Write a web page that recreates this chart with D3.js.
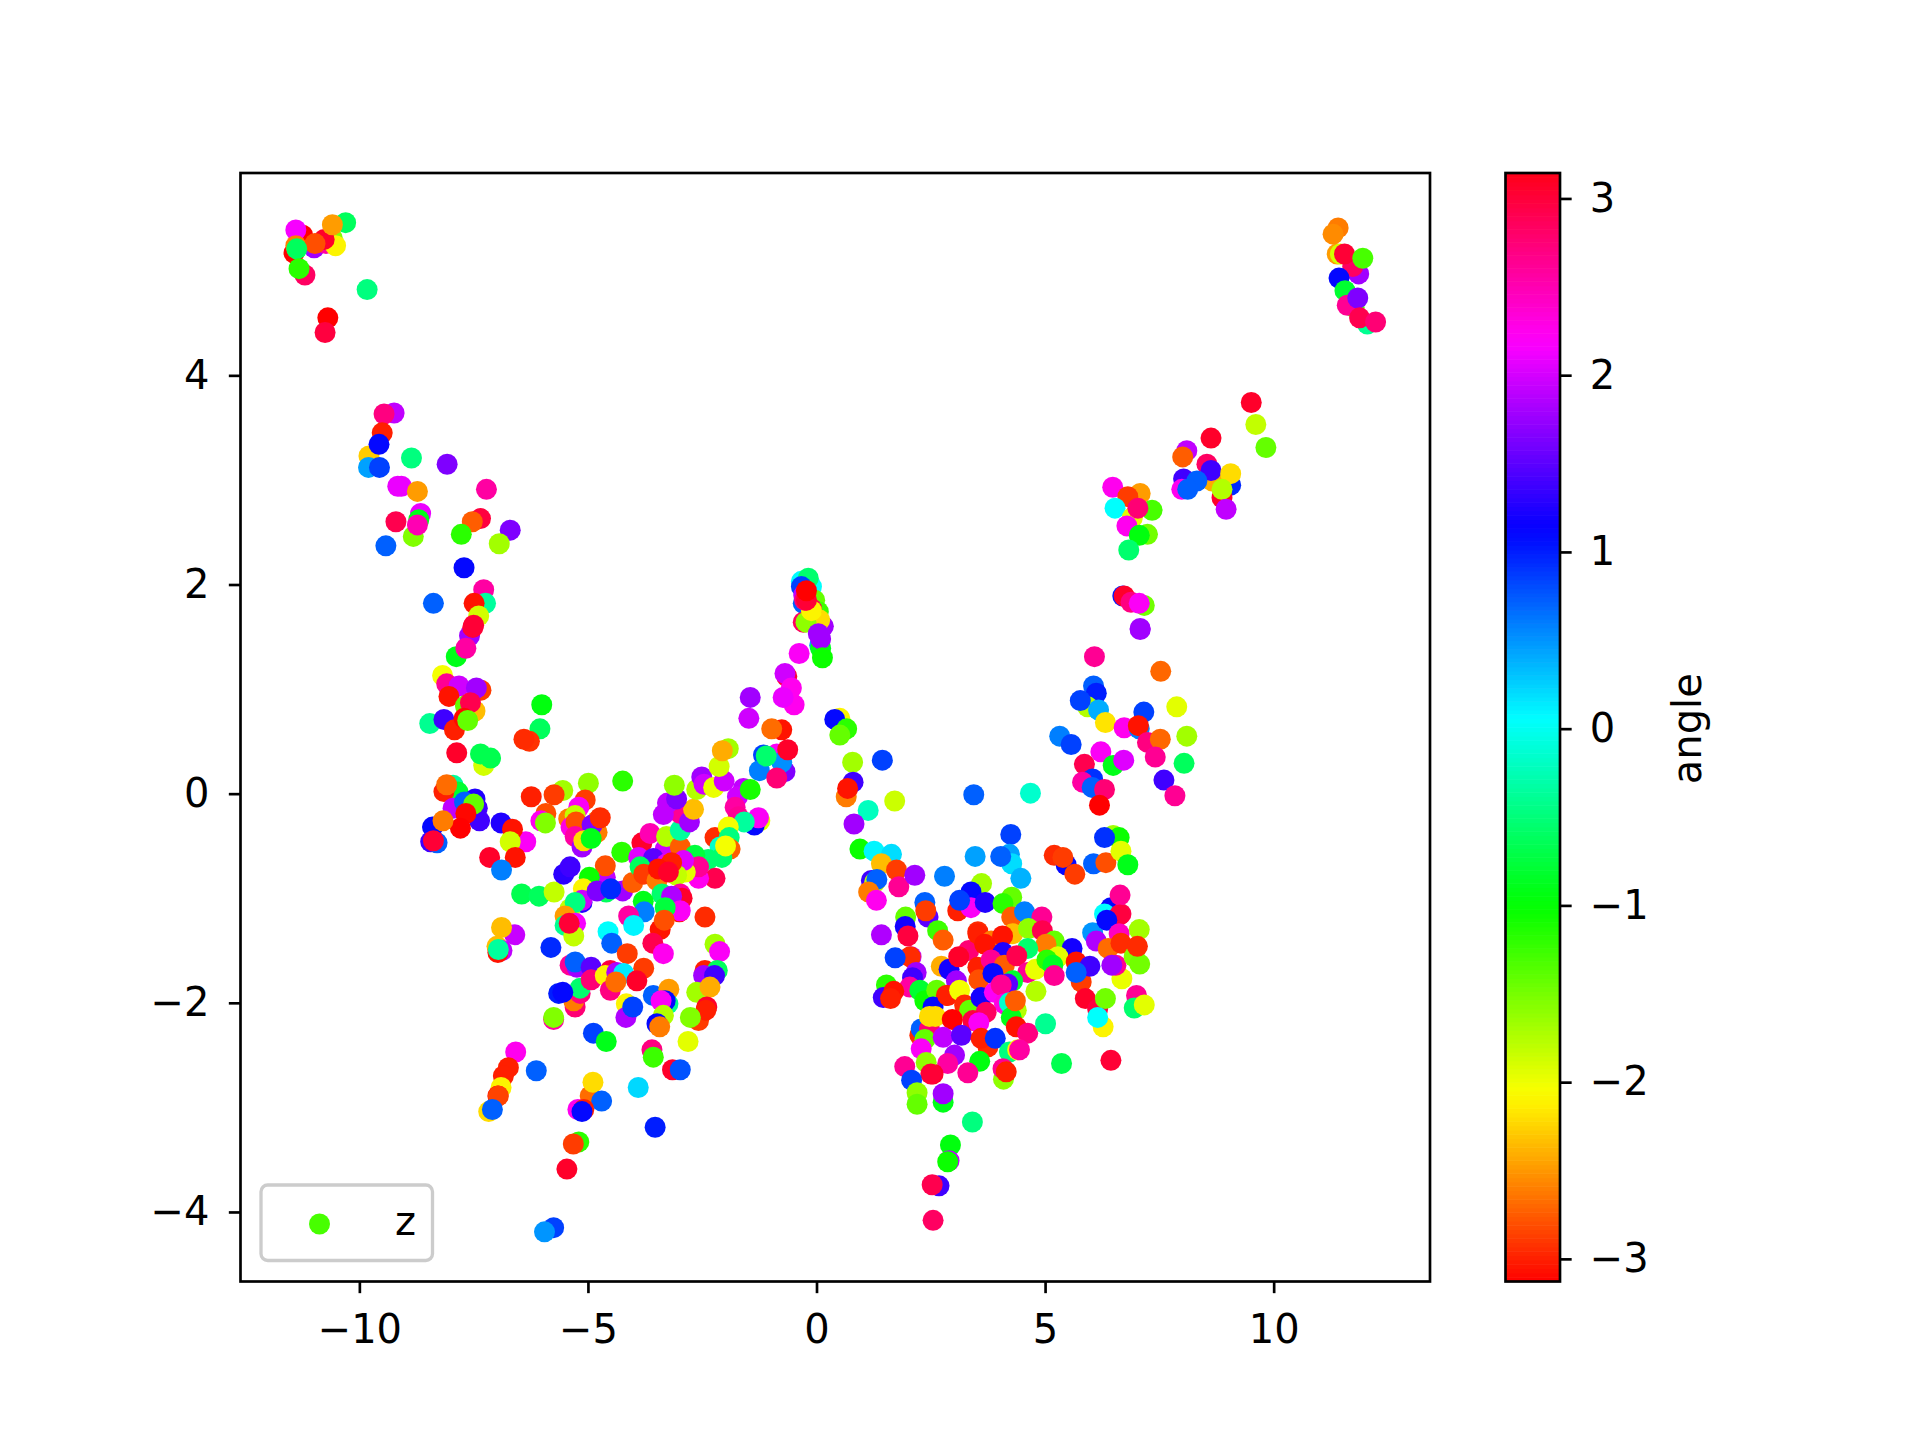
<!DOCTYPE html>
<html>
<head>
<meta charset="utf-8">
<script src="https://cdn.jsdelivr.net/npm/d3@7"></script>
<style>
html,body{margin:0;padding:0;background:#fff;}
svg{display:block;}
text{font-family:"DejaVu Sans",sans-serif;}
</style>
</head>
<body>
<svg id="chart" width="1920" height="1440"></svg>
<script>
const xDomain = [-12.6, 13.42];
const yDomain = [-4.665, 5.935];
const colorDomain = [-3.128, 3.144];
const xTicks = [-10, -5, 0, 5, 10];
const yTicks = [-4, -2, 0, 2, 4];
const colorTicks = [-3, -2, -1, 0, 1, 2, 3];
const legendLabel = "z";
const legendAngle = -1.3;
const colorLabel = "angle";

// each point: [x, y, angle]
const topLeftPoints = [
[-11.24,5.34,-3.14],[-11.43,5.17,-3.14],[-11.39,5.39,2.15],[-11.39,5.24,-2.61],[-10.99,5.22,1.79],[-10.73,5.26,2.57],[-10.59,5.31,-1.54],[-10.52,5.24,-2.1],[-10.77,5.30,3.07],[-10.97,5.26,-2.8],[-10.30,5.46,-.62],[-10.59,5.44,-2.48],[-11.37,5.21,-.62],[-11.19,4.96,2.84],[-11.32,5.02,-1.18],[-9.83,4.82,-.48],[-10.69,4.55,-3.14],[-10.75,4.41,2.98]
];
const leftArmPoints = [
[-9.24,3.64,1.92],[-9.46,3.63,2.71],[-9.50,3.45,-3.0],[-9.79,3.23,-2.28],[-9.80,3.12,.45],[-9.57,3.34,1.1],[-9.56,3.12,.85],[-8.86,3.21,-.48],[-8.08,3.15,1.65],[-9.16,2.94,2.1],[-9.08,2.94,2.1],[-8.73,2.89,-2.48],[-7.22,2.91,2.57],[-8.82,2.46,-1.54],[-8.66,2.68,2.1],[-8.70,2.62,-.9],[-8.73,2.57,2.5],[-9.20,2.60,2.92],[-9.42,2.37,.72],[-7.35,2.63,2.98],[-7.53,2.60,-2.74],[-7.77,2.48,-1.18],[-6.70,2.52,1.65],[-6.94,2.39,-1.68],[-7.71,2.16,1.1],[-7.28,1.95,2.57],[-8.38,1.82,.72],[-7.24,1.82,-.35],[-7.49,1.82,-3.05],[-7.39,1.70,-1.88],[-7.59,1.51,1.79],[-7.50,1.61,3.02],[-7.52,1.59,3.02],[-7.88,1.31,-.9],[-7.67,1.39,2.57]
];
const leftClusterPoints = [
[-8.18,1.13,-2.02],[-8.09,1.05,2.63],[-7.34,.99,-2.88],[-7.82,1.03,1.98],[-7.44,1.01,1.79],[-8.04,.93,-3.05],[-7.68,.84,-1.42],[-7.47,.79,-2.34],[-7.57,.87,2.92],[-8.46,.67,-.4],[-8.15,.71,1.38],[-7.92,.61,-3.0],[-7.71,.72,-3.1],[-7.63,.70,-1.42],[-7.87,.39,3.07],[-7.28,.27,-1.88],[-7.35,.38,-.68],[-7.13,.34,-.68],[-6.01,.85,-.95],[-6.05,.62,-.62],[-6.28,.50,-2.92],[-6.40,.52,-2.95],
[-7.95,.08,-.35],[-7.84,.015,-.8],[-8.15,.02,-3.0],[-8.09,.085,-2.68],[-7.47,-.05,1.25],[-7.95,-.14,1.92],[-7.42,-.14,1.38],[-7.37,-.26,1.38],[-7.70,-.08,.72],[-7.50,-.10,-1.42],[-7.67,-.19,-3.1],[-7.79,-.33,-3.14],[-8.40,-.32,1.1],[-8.17,-.26,-2.61],[-8.44,-.46,1.38],[-8.30,-.47,.72],[-8.38,-.45,3.02],[-6.36,-.46,2.2],[-6.90,-.28,1.25],[-6.65,-.34,-3.05],[-6.70,-.46,-1.88],[-7.15,-.61,3.07],[-6.59,-.61,-3.05],[-6.89,-.73,.59],[-6.45,-.96,-.68],[-6.07,-.98,-.62],[-5.74,-.94,-1.81],[-6.60,-1.35,1.95],[-6.89,-1.28,-2.34],[-6.99,-1.46,-2.34],[-6.88,-1.50,1.92],[-6.97,-1.52,-3.05],[-6.96,-1.49,-.35],[-5.81,-1.47,.95]
];
const bandPoints = [
[-6.24,-.03,-3.0],[-5.55,.03,-1.68],[-5.74,-.01,-2.88],[-5.92,-.19,-2.8],[-6.03,-.26,2.25],[-5.93,-.28,-1.54],[-4.99,.10,-1.6],[-4.24,.12,-1.18],[-5.06,-.06,-2.88],[-5.20,-.13,2.2],[-5.42,-.24,-2.61],[-5.28,-.21,-1.81],[-5.37,-.32,2.3],[-5.26,-.27,-2.8],[-5.28,-.41,2.57],[-4.80,-.26,-2.61],[-4.80,-.37,-2.61],[-4.91,-.30,1.65],[-4.73,-.23,-2.95],[-5.13,-.51,1.79],[-5.09,-.45,-2.21],[-4.93,-.43,-.9],[-5.53,-.77,1.3],[-5.39,-.70,1.38],[-4.62,-.80,1.92],[-4.62,-.69,-2.8],[-4.97,-.80,-1.05],[-5.10,-.91,-2.1],[-5.13,-1.04,1.25],[-5.13,-1.02,1.98],[-5.39,-1.10,-1.81],[-5.28,-1.04,-.48],[-4.60,-.94,-.62],[-4.80,-.93,1.65],[-4.24,-.93,1.79],[-4.5,-.91,.95],[-4.02,-.85,-2.74],[-4.26,-.56,-1.18],
[-3.82,-.47,3.07],[-3.64,-.38,2.5],[-3.31,-.53,1.98],[-3.28,-.41,-1.75],[-3.89,-.61,2.05],[-2.98,-.51,-2.74],[-2.98,-.35,-.35],[-2.98,-.19,2.63],[-2.78,-.27,1.79],[-2.69,-.15,-2.34],[-3.35,-.20,1.92],[-3.26,-.09,1.92],[-3.06,-.05,1.65],[-3.11,.08,-1.6],[-2.62,.04,-1.75],[-2.51,.16,1.79],[-2.46,.09,1.98],[-2.25,.06,-1.98],[-2.02,.12,1.98],[-2.13,.26,-1.88],[-1.93,.43,-1.68],[-2.06,.41,-2.41],
[-1.45,.92,1.79],[-1.48,.72,1.98],[-.76,.61,-3.05],[-.98,.62,-2.68],[-1.16,.37,.85],[-.87,.38,2.2],[-.69,.21,1.65],[-.76,.30,.52],[-1.25,.22,.59],[-1.10,.36,-.55],[-.87,.15,2.76],[-.63,.42,3.07],[-1.60,.05,1.92],[-1.73,-.03,1.98],[-1.45,.04,-1.1],[-1.78,-.13,2.57],[-1.71,-.22,2.63],[-1.24,-.26,-1.95],[-1.36,-.30,1.1],[-1.27,-.23,2.2],[-1.58,-.27,-.35],[-2.22,-.42,-2.95],[-1.93,-.32,-2.02],[-1.91,-.42,-.48],[-1.89,-.53,-2.74],[-2.11,-.51,-.15],[-2.07,-.61,-.55],[-1.99,-.50,-2.02],
[-2.37,-.63,-.55],[-2.66,-.59,-.75],[-2.22,-.81,2.92],[-2.58,-.81,2.25],[-2.58,-.70,2.63],[-2.87,-.75,-1.95],[-3.57,-.62,1.5],[-2.91,-.64,2.05],[-3.86,-.70,-.62],[-3.78,-.77,-2.88],[-3.49,-.83,-2.61],[-3.06,-.78,-1.81],[-3.28,-.67,2.05],[-3.17,-.66,-3.0],[-3.46,-.72,-3.05],[-3.24,-.75,3.07],[-3.38,-.96,-.55],[-2.98,-.96,2.57],[-2.94,-1.0,3.07],[-3.17,-.98,1.85],[-3.0,-1.13,-3.05],[-2.98,-1.12,2.2],[-2.44,-1.18,-2.95],[-3.31,-1.09,-.75],[-3.42,-1.30,-3.05],[-3.33,-1.21,-2.8],[-3.58,-1.43,2.92],[-3.35,-1.53,2.25],[-3.79,-1.03,-.9],[-3.77,-1.13,.59],[-4.11,-1.17,2.57],[-4.0,-1.26,.1],[-4.56,-1.32,.05],[-4.48,-1.43,.72],[-4.14,-1.53,-2.88],[-3.78,-1.67,-2.88],[-2.22,-1.44,-1.68],[-2.12,-1.51,2.2],[-2.44,-1.69,-3.0],[-2.17,-1.69,-.62],[-2.47,-1.74,1.79],[-2.23,-1.74,1.38]
];
const leftLowerPoints = [
[-5.5,-1.17,-2.48],[-5.50,-1.26,-.4],[-5.27,-1.24,2.15],[-5.31,-1.36,-1.81],[-5.41,-1.24,3.02],[-5.39,-1.64,2.63],[-5.24,-1.66,1.79],[-5.28,-1.61,.72],[-4.93,-1.66,1.5],[-5.28,-2.04,2.76],[-5.31,-1.98,-2.61],[-5.17,-1.91,2.71],[-5.17,-1.86,-.55],[-4.93,-1.78,2.76],[-5.64,-1.91,1.0],[-5.55,-1.90,1.1],[-5.75,-2.16,2.57],[-5.75,-2.14,-1.54],
[-4.51,-1.69,2.98],[-4.62,-1.74,-2.1],[-4.37,-1.71,1.85],[-4.22,-1.72,.15],[-3.93,-1.79,3.07],[-4.51,-1.88,2.71],[-4.39,-1.80,-2.68],[-4.16,-2.01,-2.1],[-4.17,-2.14,1.85],[-4.02,-2.04,.85],[-3.57,-1.93,.72],[-3.23,-1.87,-2.48],[-3.25,-2.01,-.4],[-3.31,-1.98,1.1],[-3.40,-1.98,2.2],[-3.35,-2.12,-1.75],[-3.49,-2.20,1.1],[-3.43,-2.23,-2.61],[-2.62,-1.90,-1.68],[-2.33,-1.85,-2.41],[-2.40,-2.04,3.07],[-2.58,-2.17,-2.88],[-2.42,-2.07,-3.0],[-2.76,-2.14,-1.54],[-2.81,-2.37,-1.95],[-4.88,-2.29,.85],[-4.60,-2.37,-.9],[-3.60,-2.45,2.71],[-3.57,-2.52,-1.25],[-3.15,-2.64,3.07],[-2.98,-2.64,.78],[-3.90,-2.81,.22],[-4.95,-2.89,-2.68],[-4.89,-2.76,-2.21],[-4.70,-2.94,.72],[-5.22,-3.02,2.25],[-5.09,-3.02,-3.0],[-5.13,-3.04,1.1],[-3.53,-3.19,1.0],[-5.20,-3.33,-1.18],[-5.32,-3.35,-2.88],[-5.46,-3.59,3.07],[-5.75,-4.15,.85],[-5.95,-4.19,.5],[-6.58,-2.47,2.25],[-6.74,-2.62,-3.0],[-6.85,-2.70,-3.0],[-6.90,-2.81,-2.1],[-6.97,-2.89,-3.14],[-6.96,-2.89,-2.85],[-7.17,-3.04,-2.21],[-7.09,-3.02,.72],[-6.13,-2.65,.72]
];
const peakPoints = [
[-.33,2.03,.08],[-.11,1.98,.05],[-.18,2.06,-.55],[-.33,1.98,.85],[-.29,1.82,.72],[-.04,1.85,-1.42],[.04,1.74,-1.25],[.15,1.60,1.79],[.07,1.66,-2.21],[-.29,1.64,2.84],[-.23,1.64,-1.6],[-.11,1.77,2.92],[-.11,1.75,-2.1],[-.28,1.9,1.92],[-.26,1.85,2.76],[-.22,1.85,3.02],[-.22,1.94,-3.14],[.07,1.42,.45],[.04,1.53,1.79],[.09,1.39,-.9],[.09,1.48,1.79],[.13,1.30,-1.05],[-.38,1.34,2.2],[-.65,1.12,3.02],[-.69,1.15,1.98],[-.55,1.01,2.25],[-.49,.85,2.25],[-.73,.92,2.1],[.51,.72,-2.1],[.40,.71,1.1],[.66,.62,-1.18],[.51,.56,-1.42],[.79,.30,-1.68],[1.44,.32,.85]
];
const rightLowerPoints = [
[.65,-.03,-2.61],[.80,.11,1.38],[.68,.05,-3.05],[1.71,-.07,-1.85],[1.13,-.16,-.21],[.82,-.29,1.79],[3.44,-.01,.72],[4.68,.005,-.15],[.95,-.53,-1.05],[1.26,-.55,.1],[1.64,-.58,.2],[1.42,-.67,-2.34],[1.75,-.73,-2.88],[1.20,-.83,1.38],[1.27,-.85,-1.81],[1.32,-.82,.72],[1.14,-.94,-2.61],[1.31,-1.02,2.25],[1.80,-.89,2.63],[2.15,-.78,1.79],[2.80,-.79,.59],[4.25,-.39,.85],[3.47,-.60,.45],[4.22,-.58,.45],[4.27,-.67,.2],[4.03,-.60,.72],[4.47,-.81,.38],[3.61,-.86,-1.68],[3.38,-.94,1.1],[3.09,-1.12,-3.0],[3.38,-1.09,2.2],[3.13,-1.02,.85],[3.69,-1.04,1.25],[4.27,-.99,-1.42],[4.08,-1.05,-1.18],[4.27,-1.18,-2.74],[4.55,-1.13,.59],[4.93,-1.18,2.63],[4.29,-1.34,-2.34],[4.64,-1.29,-1.6],[4.94,-1.31,2.92],[5.2,-1.41,-1.42],[5.02,-1.44,-2.61],[4.62,-1.48,-.55],[5.59,-1.48,1.2],[2.37,-1.04,.72],[2.44,-1.18,1.5],[2.39,-1.12,-2.88],[1.95,-1.18,-1.42],[1.94,-1.27,1.2],[2.0,-1.36,2.98],[2.65,-1.31,-1.25],[2.77,-1.40,-2.74],[1.42,-1.35,1.85],[2.07,-1.56,1.98],[2.05,-1.56,-2.95],[1.72,-1.57,.85],[2.18,-1.71,1.79],[2.1,-1.76,1.38],[2.04,-1.85,2.57],[1.53,-1.83,-1.18],[1.46,-1.95,1.38],[1.69,-1.89,-3.05],[1.62,-1.96,-3.0],
[2.73,-1.65,-2.41],[2.90,-1.68,1.2],[3.06,-1.79,1.79],[3.33,-1.50,2.76],[3.11,-1.56,3.07],[3.53,-1.32,-2.95],[3.53,-1.34,-3.0],[3.82,-1.41,-2.61],[4.07,-1.36,-3.05],[3.68,-1.44,-3.05],[3.53,-1.66,-3.0],[4.08,-1.52,1.25],[3.82,-1.59,2.63],[4.11,-1.64,-2.74],[4.38,-1.55,2.92],[3.55,-1.78,-2.8],[3.86,-1.72,1.1],[4.62,-1.71,2.63],[4.79,-1.68,-1.98],[5.28,-1.56,-1.95],[5.04,-1.59,-1.18],[5.17,-1.64,-.85],[5.2,-1.74,2.63],[5.79,-1.80,-2.88],[5.68,-1.61,-3.05],[5.98,-1.65,1.38],[5.68,-1.71,.72],[5.88,-1.96,3.07],[6.15,-2.06,2.98],[6.32,-1.96,-1.48],[6.27,-2.23,-2.1],[6.15,-2.14,.05],
[2.26,-1.88,-.8],[2.37,-1.98,-1.05],[2.63,-1.88,-1.42],[2.84,-1.93,-3.0],[2.26,-2.31,-2.95],[2.29,-2.25,.72],[2.47,-2.25,2.76],[2.37,-2.35,-1.42],[2.29,-2.44,2.2],[2.55,-2.04,1.1],[2.60,-2.13,-2.21],[2.47,-2.13,-2.21],[2.87,-1.93,-3.0],[3.13,-1.88,-2.02],[3.24,-2.02,-2.95],[3.35,-2.07,-1.42],[3.60,-1.95,1.2],[3.89,-1.90,2.2],[4.29,-1.79,-.8],[4.18,-1.82,1.5],[4.04,-1.83,2.63],[4.37,-2.07,-1.75],[4.11,-2.01,2.3],[4.22,-2.0,-.15],[4.26,-2.14,-.9],[4.37,-2.23,-3.05],[4.80,-1.89,-1.75],[4.35,-1.98,-2.74],[3.71,-2.09,2.84],[3.42,-2.17,2.98],[3.55,-2.19,2.2],[2.97,-2.16,-3.14],[2.77,-2.33,1.92],[3.17,-2.31,1.5],[3.75,-2.42,-2.95],[3.60,-2.34,-3.0],[3.91,-2.34,.92],[4.62,-2.29,2.71],[5.01,-2.20,-.4],[4.22,-2.47,-.48],[4.40,-2.45,-2.1],[4.44,-2.45,2.57],[3.57,-2.56,-.95],[3.02,-2.50,1.79],[2.87,-2.58,2.57],[3.31,-2.67,2.63],[2.55,-2.68,3.07],[4.09,-2.73,-1.6],[4.08,-2.63,2.63],[4.15,-2.66,-3.0],[1.93,-2.61,2.63],[2.40,-2.57,-1.6],[2.50,-2.68,3.02],[2.08,-2.74,.85],[2.2,-2.86,-1.6],[2.2,-2.97,-1.42],[2.77,-2.95,-.9],[2.77,-2.87,1.79],[3.41,-3.14,-.48],[2.93,-3.36,-.95],[2.90,-3.51,1.92],[2.87,-3.52,-1.05],[2.68,-3.75,1.38],[2.53,-3.74,2.92],[2.55,-4.08,2.84],
[6.44,-1.09,1.1],[6.04,-1.33,.5],[6.30,-1.15,.05],[6.66,-1.15,2.92],[6.64,-.97,2.63],[6.63,-1.16,2.98],[6.35,-1.21,1.1],[6.62,-1.34,2.44],[6.12,-1.41,1.85],[6.38,-1.48,-2.68],[6.66,-1.43,-2.95],[6.68,-1.77,-1.98],[6.55,-1.64,2.63],[6.46,-1.64,1.79],[7.06,-1.30,-1.68],[6.95,-1.56,-1.54],[7.07,-1.63,-1.48],[7.02,-1.46,-2.95],[7.0,-1.93,2.63],[6.95,-2.05,-.55],[7.17,-2.02,-1.95],[6.44,-2.55,3.02],[5.36,-2.58,-.68],[5.2,-.59,-2.95],[5.46,-.68,1.1],[5.39,-.61,-2.88],[5.65,-.77,-2.88],[6.06,-.67,.72],[6.33,-.66,-2.8],[6.49,-.40,-1.68],[6.62,-.42,-1.05],[6.30,-.42,.92],[6.66,-.55,-1.95],[6.81,-.68,-.9]
];
const rightArmPoints = [
[7.08,1.57,1.79],[6.08,1.31,2.63],[7.53,1.17,-2.7],[6.06,1.03,.72],[6.12,.96,1.0],[5.93,.83,-1.75],[5.77,.89,.85],[6.17,.80,.4],[6.32,.68,-2.18],[7.88,.83,-1.95],[8.10,.55,-1.68],[7.16,.78,.85],[6.73,.63,2.25],[7.06,.62,.59],[7.04,.65,-3.05],[7.24,.49,2.71],[7.52,.52,-2.7],[7.41,.35,2.63],[8.04,.29,-.62],[5.32,.55,.59],[5.57,.47,.85],[6.22,.40,2.2],[6.49,.27,-.9],[6.72,.32,2.05],[5.86,.28,2.92],[6.04,.14,.92],[5.82,.11,2.57],[6.03,.06,.72],[6.3,.04,2.76],[6.19,-.11,-3.14],[7.6,.13,1.38],[7.84,-.02,2.63],
[6.70,1.89,1.0],[6.73,1.89,3.07],[6.88,1.83,2.71],[7.17,1.80,-1.48],[7.06,1.82,2.2],[7.08,1.58,1.79],
[6.48,2.93,2.25],[7.08,2.87,-2.48],[6.81,2.84,-2.88],[6.53,2.73,.05],[7.34,2.71,-1.3],[6.91,2.64,-1.95],[7.03,2.73,2.76],[6.79,2.56,2.25],[7.24,2.48,-1.48],[7.06,2.47,-.95],[6.83,2.33,-.55],
[8.10,3.28,1.92],[8.01,3.22,-2.74],[8.54,3.15,2.84],[8.66,2.99,-2.41],[8.63,3.09,1.38],[8.03,3.01,1.38],[9.06,2.95,.95],[9.06,3.06,-2.21],[8.32,2.99,.72],[7.99,2.91,2.25],[8.12,2.91,.72],[8.87,2.83,3.07],[8.87,2.91,-1.75],[8.96,2.72,1.92],[8.63,3.40,3.07],[9.51,3.74,3.07],[9.61,3.53,-1.81],[9.83,3.31,-1.42]
];
const topRightPoints = [
[11.41,5.41,-2.61],[11.30,5.35,-2.55],[11.39,5.16,-2.48],[11.46,5.16,-1.88],[11.86,4.97,1.79],[11.73,5.04,2.84],[11.55,5.16,3.02],[11.95,5.12,-1.3],[11.43,4.93,1.1],[11.56,4.81,-.8],[11.76,4.65,-1.3],[11.61,4.67,2.63],[11.84,4.74,1.65],[12.05,4.49,-.4],[11.88,4.55,2.92],[12.23,4.51,2.76]
];

const W = 1920, H = 1440;
const plot = {left: 240.5, right: 1430, top: 173, bottom: 1281.5};
const bar = {left: 1505.5, right: 1560, top: 173, bottom: 1281.5};
const fontPx = 40, tickLen = 11.67, lineW = 2.67;

// matplotlib hsv colormap, expressed as piecewise-linear channel scales
const hsvR = d3.scaleLinear().domain([0,.15873,.174603,.333333,.349206,.666667,.68254,.84127,.857143,1]).range([1,1,.96875,.03125,0,0,.03125,.96875,1,1]);
const hsvG = d3.scaleLinear().domain([0,.15873,.174603,.507937,.666667,.68254,1]).range([0,.9375,1,1,.0625,0,0]);
const hsvB = d3.scaleLinear().domain([0,.333333,.349206,.507937,.84127,.857143,1]).range([0,0,.0625,1,1,.9375,.09375]);
const angleT = d3.scaleLinear().domain(colorDomain).range([0,1]).clamp(true);
const colorOf = a => { const t = angleT(a); return d3.rgb(hsvR(t)*255, hsvG(t)*255, hsvB(t)*255).formatHex(); };

const x = d3.scaleLinear().domain(xDomain).range([plot.left, plot.right]);
const y = d3.scaleLinear().domain(yDomain).range([plot.bottom, plot.top]);
const c = d3.scaleLinear().domain(colorDomain).range([bar.bottom, bar.top]);
const fmt = d => String(d).replace("-", "\u2212");

const svg = d3.select("#chart");
svg.append("rect").attr("width", W).attr("height", H).attr("fill", "#fff");

const allPoints = [].concat(leftArmPoints, topLeftPoints, leftClusterPoints, bandPoints, leftLowerPoints, peakPoints, rightLowerPoints, rightArmPoints, topRightPoints);
svg.append("g").selectAll("circle").data(allPoints).join("circle")
  .attr("cx", d => x(d[0])).attr("cy", d => y(d[1])).attr("r", 10.5)
  .attr("fill", d => colorOf(d[2]));

function styleAxis(g) {
  g.select(".domain").remove();
  g.selectAll(".tick line").attr("stroke", "#000").attr("stroke-width", lineW);
  g.selectAll(".tick text").attr("fill", "#000").attr("font-size", fontPx).attr("font-family", '"DejaVu Sans"');
}
svg.append("g").attr("transform", `translate(0,${plot.bottom})`)
  .call(d3.axisBottom(x).tickValues(xTicks).tickFormat(fmt).tickSizeInner(tickLen).tickSizeOuter(0).tickPadding(21)).call(styleAxis);
svg.append("g").attr("transform", `translate(${plot.left},0)`)
  .call(d3.axisLeft(y).tickValues(yTicks).tickFormat(fmt).tickSizeInner(tickLen).tickSizeOuter(0).tickPadding(19.5)).call(styleAxis);
svg.append("rect").attr("x", plot.left).attr("y", plot.top).attr("width", plot.right-plot.left).attr("height", plot.bottom-plot.top)
  .attr("fill", "none").attr("stroke", "#000").attr("stroke-width", lineW);

// legend
const lg = svg.append("g");
lg.append("rect").attr("x", 261).attr("y", 1185).attr("width", 171.5).attr("height", 75.5).attr("rx", 6.7).attr("ry", 6.7)
  .attr("fill", "#fff").attr("fill-opacity", .8).attr("stroke", "#ccc").attr("stroke-width", 3.33);
lg.append("circle").attr("cx", 319.5).attr("cy", 1224).attr("r", 10.5).attr("fill", colorOf(legendAngle));
lg.append("text").attr("x", 405.5).attr("y", 1235).attr("text-anchor", "middle").attr("font-size", fontPx).text(legendLabel);

// colorbar
const levels = d3.range(256);
const bandScale = d3.scaleBand().domain(levels).range([bar.bottom, bar.top]);
svg.append("g").selectAll("rect").data(levels).join("rect")
  .attr("x", bar.left).attr("width", bar.right-bar.left)
  .attr("y", d => bandScale(d)).attr("height", bandScale.bandwidth()+0.6)
  .attr("fill", d => colorOf(colorDomain[0] + (d+.5)/256*(colorDomain[1]-colorDomain[0])));
svg.append("g").attr("transform", `translate(${bar.right},0)`)
  .call(d3.axisRight(c).tickValues(colorTicks).tickFormat(fmt).tickSizeInner(tickLen).tickSizeOuter(0).tickPadding(18)).call(styleAxis);
svg.append("rect").attr("x", bar.left).attr("y", bar.top).attr("width", bar.right-bar.left).attr("height", bar.bottom-bar.top)
  .attr("fill", "none").attr("stroke", "#000").attr("stroke-width", lineW);
svg.append("text").attr("transform", `translate(1701,${c(0)}) rotate(-90)`)
  .attr("text-anchor", "middle").attr("font-size", fontPx).text(colorLabel);
</script>
</body>
</html>
